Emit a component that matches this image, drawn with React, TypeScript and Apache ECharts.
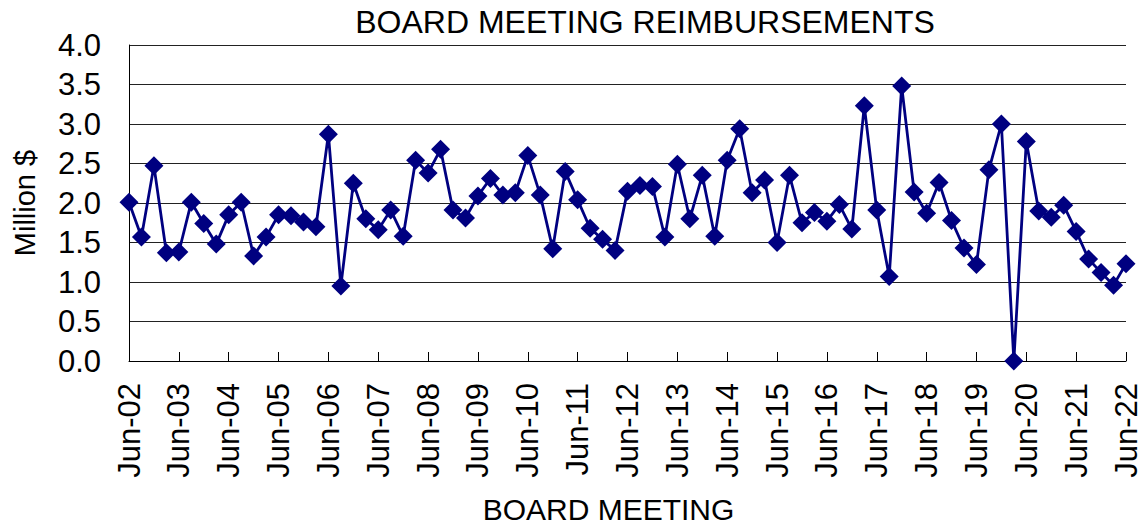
import React, { useEffect, useRef } from "react";
import * as echarts from "echarts";

const months: string[] = ["Jun", "Sep", "Dec", "Mar"];
const firstYear = 2002;
const lastYear = 2022;

// Quarterly reimbursements (million $), Jun-02 .. Jun-22
const reimbursements: number[] = [
  2.01, 1.57, 2.47, 1.37, 1.38, 2.01, 1.74, 1.48, 1.85, 2.01,
  1.33, 1.57, 1.85, 1.84, 1.76, 1.70, 2.87, 0.95, 2.25, 1.80,
  1.66, 1.91, 1.58, 2.54, 2.38, 2.68, 1.91, 1.81, 2.09, 2.31,
  2.10, 2.13, 2.60, 2.10, 1.42, 2.40, 2.04, 1.68, 1.54, 1.40,
  2.15, 2.22, 2.21, 1.57, 2.49, 1.80, 2.35, 1.58, 2.54, 2.94,
  2.13, 2.29, 1.50, 2.35, 1.75, 1.88, 1.77, 1.98, 1.67, 3.23,
  1.91, 1.07, 3.48, 2.14, 1.87, 2.26, 1.78, 1.43, 1.22, 2.42,
  3.00, 0.00, 2.78, 1.90, 1.82, 1.97, 1.64, 1.29, 1.12, 0.96,
  1.23,
];

const yTicks: number[] = [0, 0.5, 1, 1.5, 2, 2.5, 3, 3.5, 4];

function buildCategories(): string[] {
  const out: string[] = [];
  for (let y = firstYear; y <= lastYear; y++) {
    for (let q = 0; q < 4; q++) {
      const yr = q === 3 ? y + 1 : y;
      out.push(months[q] + "-" + String(yr % 100).padStart(2, "0"));
    }
  }
  return out.slice(0, reimbursements.length);
}

const categories = buildCategories();

const FONT = "'Liberation Sans', Arial, sans-serif";

export default function App() {
  const ref = useRef<HTMLDivElement>(null);
  useEffect(() => {
    document.body.style.margin = "0";
    if (!ref.current) return;
    const chart = echarts.init(ref.current, null, { renderer: "svg" });
    chart.setOption({
      animation: false,
      backgroundColor: "#ffffff",
      textStyle: { fontFamily: FONT },
      grid: {
        left: 129,
        right: 18,
        top: 45,
        bottom: 168,
        containLabel: false,
        outerBoundsMode: "none",
      },
      graphic: [
        {
          type: "text",
          x: 645,
          y: 22,
          style: {
            text: "BOARD MEETING REIMBURSEMENTS",
            fontFamily: FONT,
            fontSize: 32,
            fill: "#000",
            textAlign: "center",
            textVerticalAlign: "middle",
          },
        },
      ],
      xAxis: {
        type: "category",
        data: categories,
        boundaryGap: false,
        name: "BOARD MEETING",
        nameLocation: "middle",
        nameGap: 148,
        nameTextStyle: {
          fontFamily: FONT,
          fontSize: 30,
          lineHeight: 24,
          color: "#000",
          verticalAlign: "middle",
          padding: [0, 38, 0, 0],
        },
        axisLine: { show: true, lineStyle: { color: "#000", width: 1 } },
        axisTick: {
          show: true,
          inside: true,
          length: 9,
          interval: 3,
          alignWithLabel: true,
          lineStyle: { color: "#000", width: 1 },
        },
        axisLabel: {
          interval: 3,
          rotate: 90,
          margin: 22,
          fontFamily: FONT,
          fontSize: 31,
          color: "#000",
        },
        splitLine: { show: false },
      },
      yAxis: {
        type: "value",
        min: 0,
        max: 4,
        interval: 0.5,
        name: "Million $",
        nameLocation: "middle",
        nameGap: 90,
        nameTextStyle: { fontFamily: FONT, fontSize: 29, color: "#000" },
        axisLine: { show: true, lineStyle: { color: "#000", width: 1 } },
        axisTick: { show: false },
        axisLabel: {
          margin: 28,
          fontFamily: FONT,
          fontSize: 31,
          color: "#000",
          formatter: (v: number) => (yTicks.includes(v) ? v.toFixed(1) : ""),
        },
        splitLine: { show: true, lineStyle: { color: "#222", width: 1 } },
      },
      series: [
        {
          type: "line",
          data: reimbursements,
          clip: false,
          showSymbol: true,
          showAllSymbol: true,
          symbol: "diamond",
          symbolSize: 19,
          lineStyle: { color: "#000080", width: 2.8 },
          itemStyle: { color: "#000080" },
        },
      ],
    });
    return () => chart.dispose();
  }, []);
  return <div ref={ref} style={{ width: 1144, height: 529 }} />;
}
